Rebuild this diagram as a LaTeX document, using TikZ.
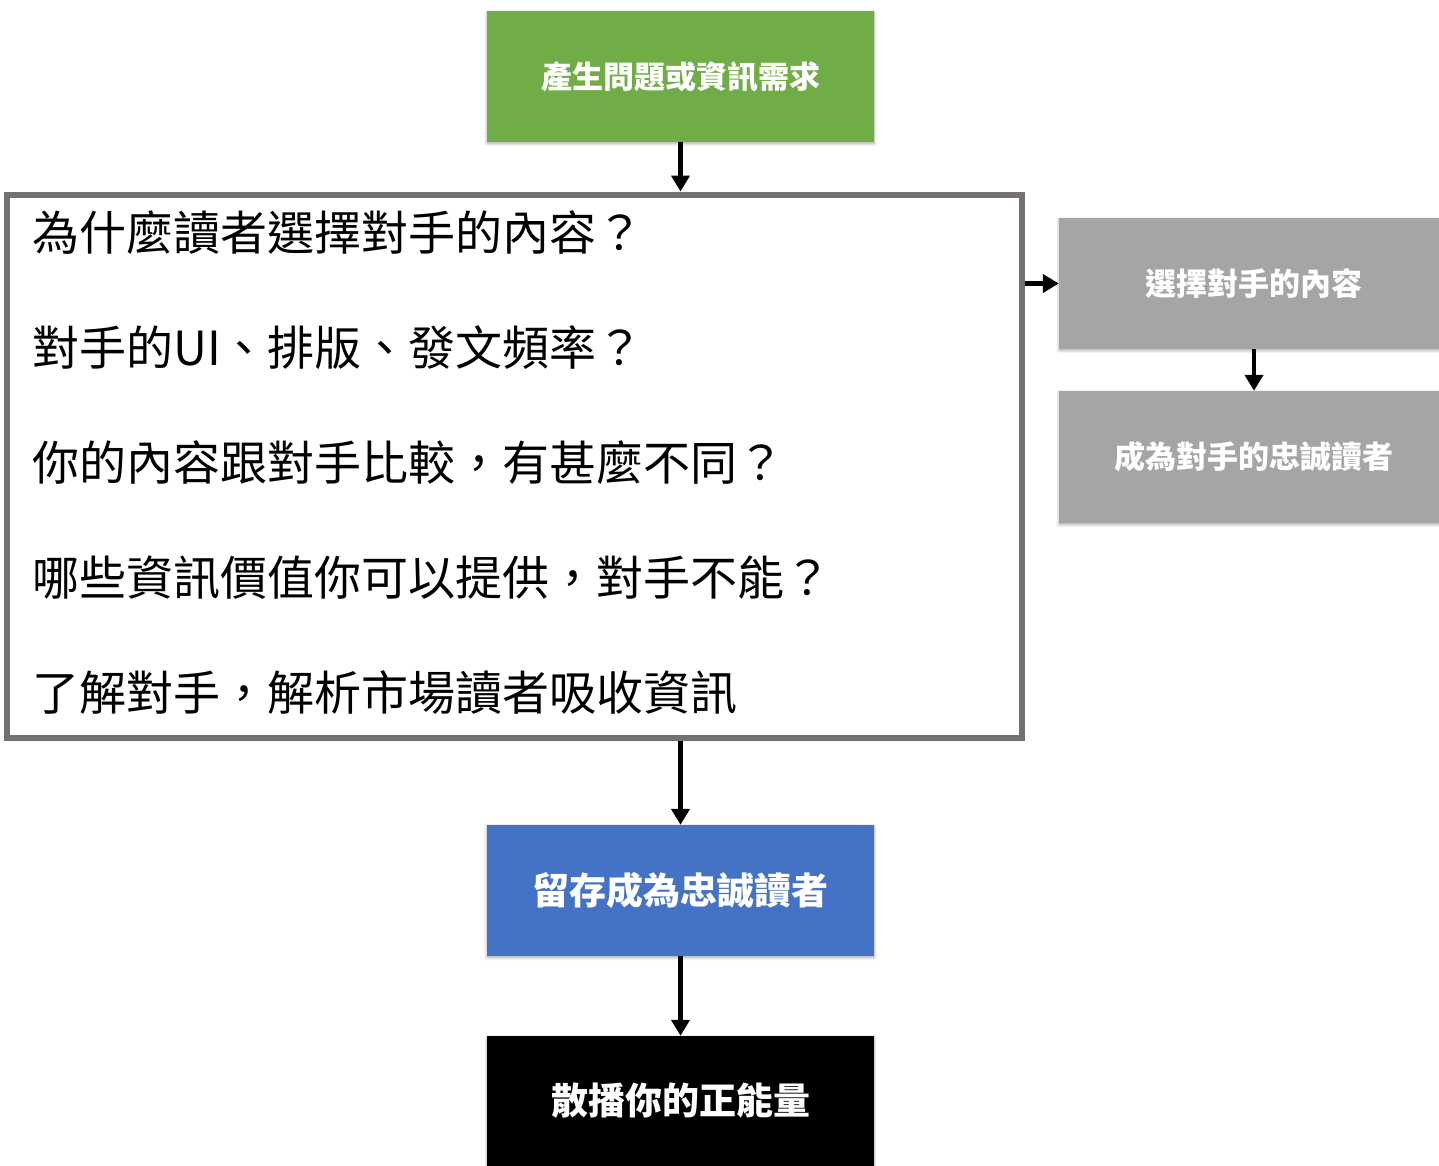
\documentclass[tikz,border=0pt]{standalone}
\usepackage{fontspec}
\newfontfamily\cjk{Noto Sans CJK TC}
\usetikzlibrary{arrows.meta,shadows.blur}
\definecolor{cgreen}{HTML}{70AD47}
\definecolor{cblue}{HTML}{4472C4}
\definecolor{cgray}{HTML}{A5A5A5}
\definecolor{cborder}{HTML}{767171}
\tikzset{
  sbox/.style={rectangle, inner sep=0pt, text=white,
    blur shadow={shadow blur steps=6, shadow xshift=0pt, shadow yshift=-1.5pt, shadow opacity=35, shadow blur radius=3pt}},
  qline/.style={anchor=west, inner sep=0pt, font=\cjk\fontsize{47}{50}\selectfont, text=black},
  conn/.style={line width=4.5pt, -{Triangle[length=16pt,width=18pt]}, shorten >=0pt},
}
\begin{document}
\begin{tikzpicture}[x=1pt,y=-1pt]
\useasboundingbox (0,0) rectangle (1439,1165);
\node[sbox, fill=cgreen, minimum width=387pt, minimum height=131pt, font=\cjk\bfseries\fontsize{31}{34}\selectfont] (need) at (680.5,76.5) {產生問題或資訊需求};
\node[rectangle, draw=cborder, line width=6pt, fill=white, minimum width=1015pt, minimum height=543pt, inner sep=0pt,
  blur shadow={shadow blur steps=6, shadow xshift=0pt, shadow yshift=-1.5pt, shadow opacity=30, shadow blur radius=3pt}] (big) at (514.5,466) {};
\node[qline] (l1) at (32,233) {為什麼讀者選擇對手的內容？};
\node[qline] (l2) at (32,348) {對手的UI、排版、發文頻率？};
\node[qline] (l3) at (32,463) {你的內容跟對手比較，有甚麼不同？};
\node[qline] (l4) at (32,578) {哪些資訊價值你可以提供，對手不能？};
\node[qline] (l5) at (32,693) {了解對手，解析市場讀者吸收資訊};
\node[sbox, fill=cgray, minimum width=390pt, minimum height=131pt, font=\cjk\bfseries\fontsize{31}{34}\selectfont] (choose) at (1254,283.5) {選擇對手的內容};
\node[sbox, fill=cgray, minimum width=390pt, minimum height=132pt, font=\cjk\bfseries\fontsize{31}{34}\selectfont] (loyal) at (1254,457) {成為對手的忠誠讀者};
\node[sbox, fill=cblue, minimum width=387pt, minimum height=131pt, font=\cjk\bfseries\fontsize{37}{40}\selectfont] (retain) at (680.5,890.5) {留存成為忠誠讀者};
\node[sbox, fill=black, minimum width=387pt, minimum height=130pt, font=\cjk\bfseries\fontsize{37}{40}\selectfont] (spread) at (680.5,1101) {散播你的正能量};
\draw[conn] (need.south) -- (need.south |- big.north);
\draw[conn] (big.east |- choose.west) -- (choose.west);
\draw[conn] (choose.south) -- (loyal.north);
\draw[conn] (big.south -| retain.north) -- (retain.north);
\draw[conn] (retain.south) -- (spread.north);
\end{tikzpicture}
\end{document}
